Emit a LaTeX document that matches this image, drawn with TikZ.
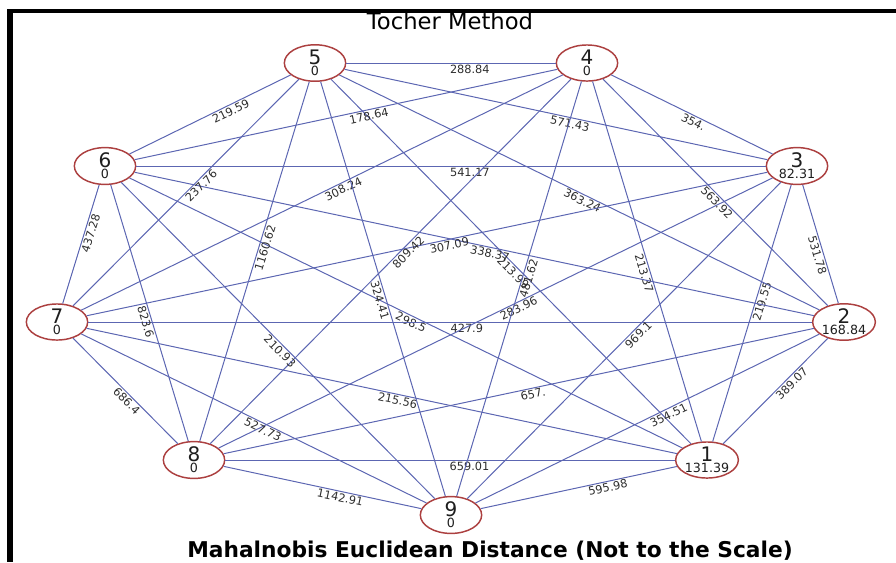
\documentclass[tikz,border=0pt]{standalone}
\usepackage{fontspec}
\setmainfont{DejaVu Sans}
\usetikzlibrary{shapes.geometric}

\tikzset{every picture/.style={line width=0.75pt}}
\tikzset{
  town/.style={ellipse, draw={rgb, 255:red, 172; green, 64; blue, 64}, line width=1.1pt, fill=white,
    minimum width=46pt, minimum height=26pt, inner sep=0pt, align=center,
    font=\fontsize{9.5}{7}\selectfont, text={rgb, 255:red, 30; green, 30; blue, 30}},
  road/.style={draw={rgb, 255:red, 92; green, 102; blue, 178}, line width=0.75pt},
  dist/.style={sloped, below, inner sep=1pt, font=\fontsize{8.5}{8.5}\selectfont,
    text={rgb, 255:red, 45; green, 45; blue, 45}},
}

\begin{document}
\begin{tikzpicture}[x=0.75pt,y=-0.75pt]
\useasboundingbox (0,0) rectangle (896,562);

%Frame
\draw [line width=4.5pt] (10,9) -- (10,562) ;
\draw [line width=3pt] (7,11) -- (896,11) ;

%Shape: Ellipse
\draw (707,460) node [town] (n1) {{\fontsize{15}{7}\selectfont 1}\\131.39};
\draw (844,322) node [town] (n2) {{\fontsize{15}{7}\selectfont 2}\\168.84};
\draw (797,166) node [town] (n3) {{\fontsize{15}{7}\selectfont 3}\\82.31};
\draw (587,63) node [town] (n4) {{\fontsize{15}{7}\selectfont 4}\\0};
\draw (315,63) node [town] (n5) {{\fontsize{15}{7}\selectfont 5}\\0};
\draw (105,166) node [town] (n6) {{\fontsize{15}{7}\selectfont 6}\\0};
\draw (57,322) node [town] (n7) {{\fontsize{15}{7}\selectfont 7}\\0};
\draw (194,460) node [town] (n8) {{\fontsize{15}{7}\selectfont 8}\\0};
\draw (451,515) node [town] (n9) {{\fontsize{15}{7}\selectfont 9}\\0};

%Straight Lines
\draw [road] (n1) -- node [dist, pos=.614] {389.07} (n2) ;
\draw [road] (n1) -- node [dist, pos=.552] {219.55} (n3) ;
\draw [road] (n1) -- node [dist, pos=.472] {213.37} (n4) ;
\draw [road] (n1) -- node [dist, pos=.482] {213.99} (n5) ;
\draw [road] (n1) -- node [dist, pos=.486] {298.5} (n6) ;
\draw [road] (n1) -- node [dist, pos=.471] {215.56} (n7) ;
\draw [road] (n1) -- node [dist, pos=.457] {659.01} (n8) ;
\draw [road] (n1) -- node [dist, pos=.358] {595.98} (n9) ;
\draw [road] (n2) -- node [dist, pos=.422] {531.78} (n3) ;
\draw [road] (n2) -- node [dist, pos=.474] {563.92} (n4) ;
\draw [road] (n2) -- node [dist, pos=.488] {363.24} (n5) ;
\draw [road] (n2) -- node [dist, pos=.475] {338.37} (n6) ;
\draw [road] (n2) -- node [dist, pos=.477] {427.9} (n7) ;
\draw [road] (n2) -- node [dist, pos=.478] {657.} (n8) ;
\draw [road] (n2) -- node [dist, pos=.446] {354.51} (n9) ;
\draw [road] (n3) -- node [dist, pos=.474] {354.} (n4) ;
\draw [road] (n3) -- node [dist, pos=.464] {571.43} (n5) ;
\draw [road] (n3) -- node [dist, pos=.470] {541.17} (n6) ;
\draw [road] (n3) -- node [dist, pos=.469] {307.09} (n7) ;
\draw [road] (n3) -- node [dist, pos=.463] {283.96} (n8) ;
\draw [road] (n3) -- node [dist, pos=.468] {969.1} (n9) ;
\draw [road] (n4) -- node [dist, pos=.410] {288.84} (n5) ;
\draw [road] (n4) -- node [dist, pos=.449] {178.64} (n6) ;
\draw [road] (n4) -- node [dist, pos=.461] {308.24} (n7) ;
\draw [road] (n4) -- node [dist, pos=.463] {809.42} (n8) ;
\draw [road] (n4) -- node [dist, pos=.470] {481.62} (n9) ;
\draw [road] (n5) -- node [dist, pos=.388] {219.59} (n6) ;
\draw [road] (n5) -- node [dist, pos=.452] {237.76} (n7) ;
\draw [road] (n5) -- node [dist, pos=.457] {1160.62} (n8) ;
\draw [road] (n5) -- node [dist, pos=.523] {324.41} (n9) ;
\draw [road] (n6) -- node [dist, pos=.394] {437.28} (n7) ;
\draw [road] (n6) -- node [dist, pos=.528] {823.6} (n8) ;
\draw [road] (n6) -- node [dist, pos=.520] {210.93} (n9) ;
\draw [road] (n7) -- node [dist, pos=.554] {686.4} (n8) ;
\draw [road] (n7) -- node [dist, pos=.534] {527.73} (n9) ;
\draw [road] (n8) -- node [dist, pos=.596] {1142.91} (n9) ;

% Text Node
\draw (450,29) node [anchor=base, inner sep=0pt, font=\fontsize{17}{17}\selectfont] (title) {Tocher Method};
% Text Node
\draw (490,557) node [anchor=base, inner sep=0pt, font=\fontsize{16.3}{16.3}\selectfont\bfseries] (caption) {Mahalnobis Euclidean Distance (Not to the Scale)};

\end{tikzpicture}
\end{document}
